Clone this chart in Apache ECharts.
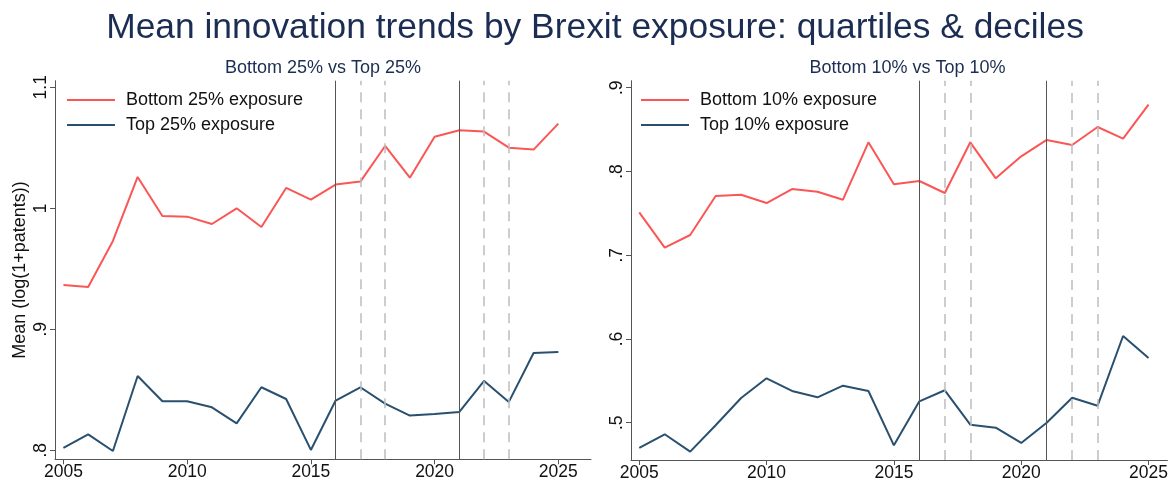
<!DOCTYPE html>
<html>
<head>
<meta charset="utf-8">
<script src="https://cdn.jsdelivr.net/npm/echarts@6/dist/echarts.min.js"></script>
<style>
  html, body { margin: 0; padding: 0; background: #fff; }
  #chart { width: 1171px; height: 487px; }
</style>
</head>
<body>
<div id="chart"></div>
<script>
// Survey years
const years = [2005, 2006, 2007, 2008, 2009, 2010, 2011, 2012, 2013, 2014, 2015,
               2016, 2017, 2018, 2019, 2020, 2021, 2022, 2023, 2024, 2025];

// Mean log(1+patents), quartile groups
const bottom25 = [0.9366, 0.9350, 0.9730, 1.0259, 0.9937, 0.9931, 0.9870, 1.0000, 0.9846, 1.0168, 1.0072,
                  1.0196, 1.0221, 1.0515, 1.0253, 1.0592, 1.0645, 1.0634, 1.0501, 1.0485, 1.0700];
const top25    = [0.8019, 0.8132, 0.7994, 0.8614, 0.8405, 0.8405, 0.8355, 0.8223, 0.8521, 0.8424, 0.8003,
                  0.8411, 0.8521, 0.8386, 0.8287, 0.8300, 0.8317, 0.8573, 0.8400, 0.8804, 0.8812];

// Mean log(1+patents), decile groups
const bottom10 = [0.7512, 0.7090, 0.7241, 0.7707, 0.7722, 0.7623, 0.7790, 0.7758, 0.7663, 0.8348, 0.7847,
                  0.7886, 0.7743, 0.8348, 0.7918, 0.8181, 0.8376, 0.8316, 0.8531, 0.8391, 0.8797];
const top10    = [0.4698, 0.4862, 0.4654, 0.4969, 0.5295, 0.5530, 0.5379, 0.5303, 0.5442, 0.5379, 0.4730,
                  0.5255, 0.5387, 0.4976, 0.4940, 0.4758, 0.5000, 0.5298, 0.5203, 0.6035, 0.5773];

// Axis tick values
const xTicks = [2005, 2010, 2015, 2020, 2025];
const yTicksQuartile = [0.8, 0.9, 1.0, 1.1];
const yTicksDecile = [0.5, 0.6, 0.7, 0.8, 0.9];

// Event markers: solid = key dates, dashed = follow-up years
const keyYears = [2016, 2021];
const followYears = [2017, 2018, 2022, 2023];

const RED = '#fb5656';
const NAVY = '#29506f';
const TITLE_COLOR = '#1b2d52';
const FONT = '"Liberation Sans", Arial, sans-serif';
const AXIS_COLOR = '#555';

const pairs = (vals) => years.map((y, i) => [y, vals[i]]);
const fmtY = (v) => {
  const s = String(+v.toFixed(1));
  return s.startsWith('0.') ? s.slice(1) : s;
};

const markLines = {
  silent: true,
  symbol: ['none', 'none'],
  label: { show: false },
  emphasis: { disabled: true },
  animation: false,
  data: [
    ...keyYears.map(y => ({ xAxis: y, lineStyle: { type: 'solid', color: '#555', width: 1 } })),
    ...followYears.map(y => ({ xAxis: y, lineStyle: { type: [10, 7], color: '#bdbdbd', width: 1.5 } }))
  ]
};

function xAxisFor(gridIndex, min, max) {
  return {
    type: 'value', gridIndex, min, max,
    splitLine: { show: false },
    axisLine: { show: true, lineStyle: { color: AXIS_COLOR, width: 1 } },
    axisTick: { show: true, length: 5, lineStyle: { color: AXIS_COLOR }, customValues: xTicks },
    axisLabel: { customValues: xTicks, formatter: v => String(v), color: '#111',
                 fontFamily: FONT, fontSize: 17.5, margin: 4 }
  };
}

function yAxisFor(gridIndex, min, max, ticks, name) {
  return {
    type: 'value', gridIndex, min, max,
    name, nameLocation: 'middle', nameRotate: 90, nameGap: 26,
    nameTextStyle: { color: '#111', fontFamily: FONT, fontSize: 18 },
    splitLine: { show: false },
    axisLine: { show: true, lineStyle: { color: AXIS_COLOR, width: 1 } },
    axisTick: { show: true, length: 5, lineStyle: { color: AXIS_COLOR }, customValues: ticks },
    axisLabel: { customValues: ticks, formatter: fmtY, rotate: 90, color: '#111',
                 fontFamily: FONT, fontSize: 17.5, margin: 5 }
  };
}

function legendFor(left, names, colors) {
  return {
    left, top: 86, orient: 'vertical',
    itemWidth: 48, itemHeight: 2, itemGap: 7,
    data: names.map(n => ({ name: n, icon: 'rect' })),
    selectedMode: false,
    textStyle: { color: '#111', fontFamily: FONT, fontSize: 18, padding: [0, 0, 0, 6] }
  };
}

function lineSeries(name, vals, color, xi, yi, withMarks) {
  const s = {
    name, type: 'line', xAxisIndex: xi, yAxisIndex: yi,
    data: pairs(vals), symbol: 'none', showSymbol: false,
    lineStyle: { color, width: 2 }, itemStyle: { color },
    animation: false
  };
  if (withMarks) s.markLine = markLines;
  return s;
}

const chart = echarts.init(document.getElementById('chart'), null, { renderer: 'canvas' });
chart.setOption({
  backgroundColor: '#fff',
  animation: false,
  graphic: [
    { type: 'text', x: 595, y: 28.5,
      style: { text: 'Mean innovation trends by Brexit exposure: quartiles & deciles',
               font: `35.4px ${FONT}`, fill: TITLE_COLOR, textAlign: 'center', textVerticalAlign: 'middle' } },
    { type: 'text', x: 323, y: 68,
      style: { text: 'Bottom 25% vs Top 25%', font: `18px ${FONT}`, fill: TITLE_COLOR,
               textAlign: 'center', textVerticalAlign: 'middle' } },
    { type: 'text', x: 907.5, y: 68,
      style: { text: 'Bottom 10% vs Top 10%', font: `18px ${FONT}`, fill: TITLE_COLOR,
               textAlign: 'center', textVerticalAlign: 'middle' } }
  ],
  grid: [
    { left: 55, top: 80.7, width: 536, height: 378.6 },
    { left: 631, top: 80.7, width: 539, height: 379.3 }
  ],
  xAxis: [
    xAxisFor(0, 2004.66, 2026.32),
    xAxisFor(1, 2004.676, 2025.74)
  ],
  yAxis: [
    yAxisFor(0, 0.79256, 1.10545, yTicksQuartile, 'Mean (log(1+patents))'),
    yAxisFor(1, 0.45546, 0.90836, yTicksDecile, '')
  ],
  legend: [
    legendFor(62, ['Bottom 25% exposure', 'Top 25% exposure']),
    legendFor(636, ['Bottom 10% exposure', 'Top 10% exposure'])
  ],
  series: [
    lineSeries('Bottom 25% exposure', bottom25, RED, 0, 0, true),
    lineSeries('Top 25% exposure', top25, NAVY, 0, 0, false),
    lineSeries('Bottom 10% exposure', bottom10, RED, 1, 1, true),
    lineSeries('Top 10% exposure', top10, NAVY, 1, 1, false)
  ]
});
</script>
</body>
</html>
